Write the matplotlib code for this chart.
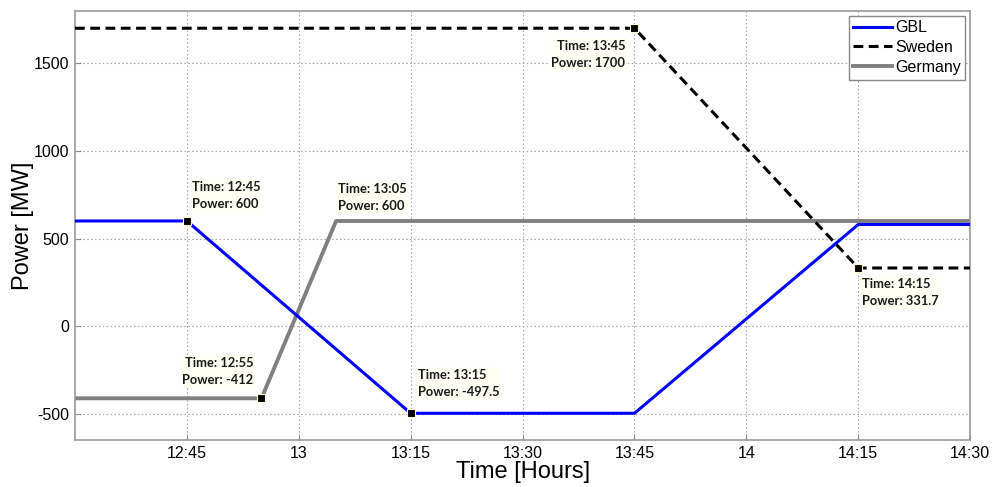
import numpy as np
import matplotlib
matplotlib.use('Agg')
import matplotlib.pyplot as plt

plt.rcParams['font.family'] = ['Liberation Sans', 'DejaVu Sans']
plt.rcParams['axes.unicode_minus'] = False

# time in hours, power in MW
gbl_t = [12.5, 12.75, 13.25, 13.75, 14.25, 14.5]
gbl_p = [600, 600, -497.5, -497.5, 580, 580]
swe_t = [12.5, 13.75, 14.25, 14.5]
swe_p = [1700, 1700, 331.7, 331.7]
ger_t = [12.5, 12 + 55/60, 13 + 5/60, 14.5]
ger_p = [-412, -412, 600, 600]

xticks = [12.75, 13.0, 13.25, 13.5, 13.75, 14.0, 14.25, 14.5]
xticklabels = ['12:45', '13', '13:15', '13:30', '13:45', '14', '14:15', '14:30']
yticks = [-500, 0, 500, 1000, 1500]

# datatips: (time, power, label time, label power, offset px, ha, va, marker)
tips = [
    (12.75, 600, '12:45', '600', (5, 40), 'left', 'top', True),
    (13 + 5/60, 600, '13:05', '600', (2, 38), 'left', 'top', False),
    (12 + 55/60, -412, '12:55', '-412', (-8, 41), 'right', 'top', True),
    (13.25, -497.5, '13:15', '-497.5', (7, 44), 'left', 'top', True),
    (13.75, 1700, '13:45', '1700', (-9, -12), 'right', 'top', True),
    (14.25, 331.7, '14:15', '331.7', (4, -10), 'left', 'top', True),
]

fig = plt.figure(figsize=(9.93, 4.87), dpi=100)
ax = fig.add_axes([0.0755, 0.0965, 0.9015, 0.8815])

ax.plot(gbl_t, gbl_p, color='#0000ff', lw=2.2, label='GBL', zorder=3)
ax.plot(swe_t, swe_p, color='black', lw=2.2, ls=(0, (3.2, 1.8)), label='Sweden', zorder=3)
ax.plot(ger_t, ger_p, color='#808080', lw=2.8, label='Germany', zorder=2)

for t, p, lt, lp, off, ha, va, mk in tips:
    if mk:
        ax.plot(t, p, marker='s', ms=6, mfc='black', mec='#ffffcc', mew=0.8, zorder=5)
    ax.annotate('Time: %s\nPower: %s' % (lt, lp), (t, p), xytext=off,
                textcoords='offset pixels', ha=ha, va=va, fontsize=9.3,
                family='Lato', fontweight='bold', color='#1a1a1a',
                linespacing=1.5, zorder=6,
                bbox=dict(boxstyle='square,pad=0.15', fc='#fffff4', ec='none'))

ax.set_xlim(12.5, 14.5)
ax.set_ylim(-650, 1800)
ax.set_xticks(xticks)
ax.set_xticklabels(xticklabels)
ax.set_yticks(yticks)
ax.tick_params(direction='in', length=4, width=0.8, color='#888888', labelsize=11.5, pad=4)
ax.grid(True, ls=(0, (1.5, 2)), color='#aaaaaa', lw=0.8)
for s in ax.spines.values():
    s.set_color('#999999')
    s.set_linewidth(1.2)

ax.set_xlabel('Time [Hours]', fontsize=17, labelpad=0)
ax.set_ylabel('Power [MW]', fontsize=17, labelpad=0)

leg = ax.legend(loc='upper right', fontsize=11.5, handlelength=2.4, handletextpad=0.2,
                borderpad=0.3, labelspacing=0.3, fancybox=False, framealpha=1,
                borderaxespad=0.3)
leg.get_frame().set_edgecolor('#888888')
leg.get_frame().set_linewidth(1.0)

fig.savefig('out.png', dpi=100)
